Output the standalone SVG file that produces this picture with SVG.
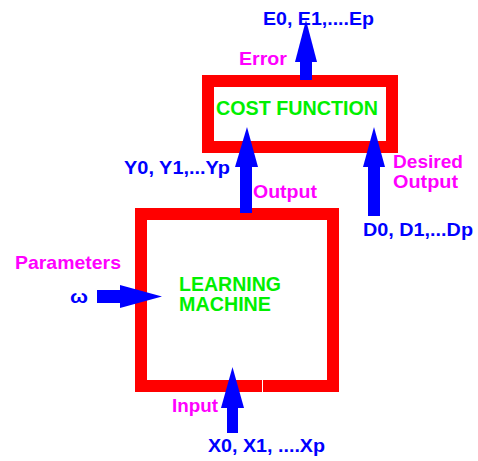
<svg xmlns="http://www.w3.org/2000/svg" width="478" height="461" viewBox="0 0 478 461">
<style>
.box{fill:none;stroke:#ff0000;stroke-width:12}
.arr{fill:#0000ff}
text{font-family:"Liberation Sans",Arial,sans-serif;font-weight:bold;font-size:18.5px}
.b{fill:#0000ff}
.m{fill:#ff00ff}
.g{fill:#00f000;font-size:19.5px}
</style>
<rect width="478" height="461" fill="#ffffff"/>
<g id="cost-function">
<rect class="box" x="208" y="81" width="184" height="66"/>
<text class="g" x="216" y="115" textLength="162" lengthAdjust="spacingAndGlyphs">COST FUNCTION</text>
</g>
<g id="learning-machine">
<rect class="box" x="141" y="214" width="192" height="172"/>
<line x1="262.5" y1="380" x2="262.5" y2="392" stroke="#ffffff" stroke-width="1"/>
<text class="g" x="179" y="291" textLength="102" lengthAdjust="spacingAndGlyphs">LEARNING</text>
<text class="g" x="179" y="311" textLength="92" lengthAdjust="spacingAndGlyphs">MACHINE</text>
</g>
<g id="connectors">
<g id="error-arrow">
<rect class="arr" x="300" y="61" width="12" height="19"/>
<polygon class="arr" points="295,62 306,20 317,62"/>
</g>
<g id="output-arrow">
<rect class="arr" x="240" y="166" width="12" height="47"/>
<polygon class="arr" points="235,167 247,127 258,167"/>
</g>
<g id="desired-arrow">
<rect class="arr" x="368" y="166" width="12" height="50"/>
<polygon class="arr" points="363,167 374,127 385,167"/>
</g>
<g id="parameters-arrow">
<rect class="arr" x="97" y="290" width="24" height="13"/>
<polygon class="arr" points="120,285 162,296.5 120,308"/>
</g>
<g id="input-arrow">
<rect class="arr" x="227" y="407" width="11" height="26"/>
<polygon class="arr" points="221,408 232.5,367 244,408"/>
</g>
</g>
<g id="labels">
<text class="b" x="263" y="25" textLength="111" lengthAdjust="spacingAndGlyphs">E0, E1,....Ep</text>
<text class="m" x="239" y="65" textLength="48" lengthAdjust="spacingAndGlyphs">Error</text>
<text class="b" x="124" y="174" textLength="106" lengthAdjust="spacingAndGlyphs">Y0, Y1,...Yp</text>
<text class="m" x="253" y="198" textLength="64" lengthAdjust="spacingAndGlyphs">Output</text>
<text class="m" x="393" y="168" textLength="70" lengthAdjust="spacingAndGlyphs">Desired</text>
<text class="m" x="393" y="188" textLength="65" lengthAdjust="spacingAndGlyphs">Output</text>
<text class="b" x="363" y="236" textLength="110" lengthAdjust="spacingAndGlyphs">D0, D1,...Dp</text>
<text class="m" x="15" y="269" textLength="106" lengthAdjust="spacingAndGlyphs">Parameters</text>
<text class="b" x="70" y="303" textLength="18" lengthAdjust="spacingAndGlyphs">ω</text>
<text class="m" x="172" y="412" textLength="46" lengthAdjust="spacingAndGlyphs">Input</text>
<text class="b" x="208" y="452" textLength="117" lengthAdjust="spacingAndGlyphs">X0, X1, ....Xp</text>
</g>
</svg>
